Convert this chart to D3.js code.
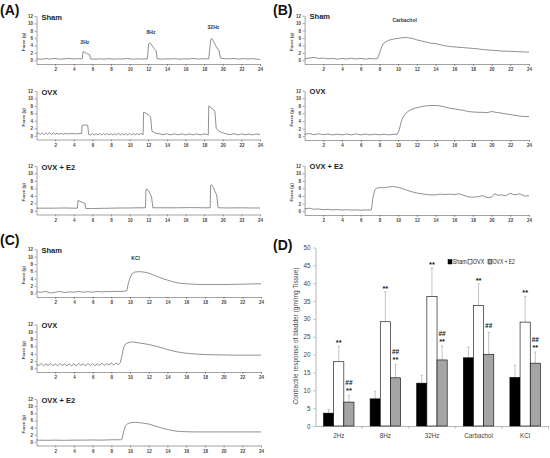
<!DOCTYPE html>
<html>
<head>
<meta charset="utf-8">
<script src="https://cdn.jsdelivr.net/npm/d3@7"></script>
<style>
  body { margin: 0; background: #fff; }
  svg { display: block; font-family: "Liberation Sans", Arial, sans-serif; }
</style>
</head>
<body>
<svg id="fig" width="550" height="458"></svg>
<script>
// ---- trace data: [time, force(g)] ----
var aSham = [[0,0.4],[0.5,0.3],[1,0.45],[1.5,0.35],[2,0.5],[2.5,0.3],[3,0.4],[3.5,0.5],[4,0.35],[4.5,0.45],[4.9,0.4],[5.0,2.3],[5.1,2.3],[5.3,2.0],[5.5,1.7],[5.7,1.5],[5.8,0.4],[6.2,0.3],[6.8,0.4],[7.3,0.3],[7.8,0.45],[8.3,0.3],[8.8,0.4],[9.3,0.35],[9.8,0.5],[10.3,0.3],[10.8,0.4],[11.3,0.35],[11.9,0.4],[12.05,4.5],[12.15,4.7],[12.3,4.4],[12.5,3.6],[12.7,3.0],[12.85,2.6],[12.95,0.5],[13.3,0.3],[13.8,0.4],[14.3,0.35],[14.8,0.45],[15.3,0.3],[15.8,0.4],[16.3,0.35],[16.8,0.5],[17.3,0.35],[17.8,0.4],[18.5,0.4],[18.7,5.5],[18.8,5.9],[19.0,5.2],[19.2,4.2],[19.4,3.2],[19.6,2.8],[19.75,0.6],[20.2,0.45],[20.7,0.4],[21.2,0.5],[21.7,0.35],[22.2,0.45],[22.7,0.35],[23.2,0.45],[23.7,0.3],[24,0.2]];
var aOvx = [[0,0.4],[0.2,0.8],[0.4,0.3],[0.6,0.8],[0.8,0.3],[1.0,0.8],[1.2,0.35],[1.4,0.8],[1.6,0.35],[1.8,0.75],[2.0,0.35],[2.2,0.7],[2.4,0.4],[2.6,0.7],[2.8,0.4],[3.0,0.6],[3.4,0.5],[3.8,0.6],[4.2,0.5],[4.6,0.6],[4.85,0.6],[4.9,2.8],[5.2,2.9],[5.5,2.8],[5.6,0.4],[5.8,0.2],[6.0,0.6],[6.2,0.2],[6.4,0.55],[6.6,0.2],[6.8,0.6],[7.0,0.2],[7.2,0.6],[7.4,0.25],[7.6,0.6],[7.8,0.25],[8.0,0.6],[8.2,0.2],[8.4,0.6],[8.6,0.25],[8.8,0.65],[9.0,0.25],[9.2,0.6],[9.4,0.2],[9.6,0.6],[9.8,0.2],[10.0,0.7],[10.2,0.2],[10.4,0.6],[10.6,0.25],[10.8,0.6],[11.0,0.25],[11.2,0.6],[11.45,0.3],[11.5,6.3],[11.7,6.1],[12.0,5.7],[12.25,5.0],[12.4,1.2],[12.8,0.7],[13.2,0.5],[13.6,0.3],[14.0,0.55],[14.4,0.25],[14.8,0.5],[15.2,0.25],[15.6,0.5],[16.0,0.25],[16.4,0.5],[16.8,0.25],[17.2,0.5],[17.6,0.25],[18.0,0.5],[18.45,0.3],[18.5,8.0],[18.7,7.6],[19.0,7.0],[19.15,6.6],[19.3,2.0],[19.6,1.2],[20.0,0.8],[20.4,0.5],[20.8,0.3],[21.2,0.55],[21.6,0.25],[22.0,0.5],[22.4,0.25],[22.8,0.5],[23.2,0.25],[23.6,0.5],[24,0.3]];
var aE2 = [[0,0.7],[1,0.7],[2,0.7],[3,0.75],[4,0.7],[4.4,0.7],[4.45,2.7],[4.6,2.6],[4.8,2.4],[5.0,2.2],[5.2,2.0],[5.3,0.6],[6,0.6],[7,0.65],[8,0.7],[9,0.75],[10,0.75],[11,0.8],[11.7,0.8],[11.75,5.5],[11.85,5.9],[12.0,5.4],[12.2,4.5],[12.35,3.8],[12.5,0.8],[13.5,0.8],[15,0.8],[16.5,0.85],[18,0.8],[18.65,0.8],[18.7,6.7],[18.8,7.0],[19.0,6.2],[19.2,5.0],[19.35,4.2],[19.5,0.8],[20.5,0.75],[22,0.8],[23,0.75],[24,0.75]];

var bSham = [[0,0.4],[0.5,0.6],[1,0.8],[1.5,0.5],[2,0.6],[2.5,0.4],[3,0.5],[3.5,0.3],[4,0.5],[4.5,0.35],[5,0.55],[5.5,0.35],[6,0.5],[6.5,0.3],[7,0.5],[7.5,0.35],[7.8,0.5],[8.0,1.8],[8.2,3.3],[8.4,4.4],[8.7,5.0],[9,5.4],[9.5,5.7],[10,5.9],[10.5,6.1],[11,6.1],[11.5,5.9],[12,5.5],[12.5,5.2],[13,4.9],[13.5,4.6],[14,4.5],[14.5,4.2],[15,3.9],[15.5,3.7],[16,3.6],[17,3.4],[18,3.2],[18.5,3.1],[19,2.9],[20,2.7],[21,2.5],[22,2.4],[23,2.3],[24,2.2]];
var bOvx = [[0,0.5],[0.5,0.7],[1,0.4],[1.5,0.65],[2,0.4],[2.5,0.6],[3,0.35],[3.5,0.55],[4,0.35],[4.5,0.6],[5,0.35],[5.5,0.6],[6,0.35],[6.5,0.55],[7,0.35],[7.5,0.55],[8,0.35],[8.5,0.55],[9,0.35],[9.5,0.5],[9.9,0.5],[10.1,1.5],[10.3,3.5],[10.5,5.0],[10.8,6.0],[11.2,6.8],[11.8,7.4],[12.5,7.8],[13,8.0],[13.5,8.1],[14,8.1],[14.5,8.0],[15,7.7],[15.5,7.4],[16,7.2],[16.5,7.0],[17,6.8],[17.5,6.5],[18,6.4],[18.5,6.3],[19,6.3],[19.5,6.2],[20,6.5],[20.5,6.3],[21,6.1],[21.5,5.9],[22,5.7],[22.5,5.5],[23,5.3],[23.5,5.2],[24,5.2]];
var bE2 = [[0,0.6],[0.5,0.8],[1,0.5],[1.5,0.6],[2,0.4],[2.5,0.5],[3,0.35],[3.5,0.45],[4,0.3],[4.5,0.4],[5,0.3],[5.5,0.35],[6,0.25],[6.5,0.35],[7,0.3],[7.15,0.4],[7.3,3.5],[7.5,5.5],[7.7,6.1],[8,6.2],[8.5,6.2],[9,6.4],[9.5,6.5],[10,6.3],[10.5,5.9],[11,5.5],[11.5,5.1],[12,4.8],[12.5,4.6],[13,4.4],[13.5,4.3],[14,4.3],[14.5,4.5],[15,4.4],[15.5,4.5],[16,4.4],[16.5,4.6],[17,4.2],[17.5,3.8],[18,3.7],[18.5,3.8],[19,4.1],[19.5,3.6],[20,3.7],[20.3,4.6],[20.7,4.2],[21,4.3],[21.5,4.1],[22,4.7],[22.5,4.3],[23,4.6],[23.5,4.0],[24,4.1]];

var cSham = [[0,0.4],[0.5,0.3],[1,0.5],[1.5,0.1],[2,0.3],[2.5,0.5],[3,0.2],[3.5,0.4],[4,0.3],[4.5,0.5],[5,0.3],[5.5,0.45],[6,0.3],[6.5,0.5],[7,0.4],[7.5,0.5],[8,0.45],[8.5,0.55],[9,0.5],[9.5,0.6],[9.65,0.7],[9.8,2.5],[10,4.2],[10.2,5.3],[10.5,5.8],[11,5.9],[11.5,5.8],[12,5.5],[12.5,5.0],[13,4.5],[13.5,4.0],[14,3.6],[14.5,3.2],[15,2.9],[15.5,2.7],[16,2.6],[17,2.45],[18,2.4],[19,2.4],[20,2.4],[21,2.45],[22,2.5],[23,2.55],[24,2.6]];
var cOvx = [[0,1.2],[0.25,0.8],[0.5,1.3],[0.75,0.7],[1,1.2],[1.25,0.8],[1.5,1.3],[1.75,0.7],[2,1.2],[2.25,0.7],[2.5,1.3],[2.75,0.8],[3,1.2],[3.25,0.7],[3.5,1.2],[3.75,0.7],[4,1.2],[4.25,0.7],[4.5,1.3],[4.75,0.8],[5,1.2],[5.25,0.7],[5.5,1.3],[5.75,0.8],[6,1.3],[6.25,0.7],[6.5,1.2],[6.75,0.8],[7,1.4],[7.25,0.8],[7.5,1.3],[7.75,0.9],[8,1.4],[8.25,0.9],[8.5,1.4],[8.75,1.0],[8.95,1.5],[9.1,3.0],[9.3,5.5],[9.5,6.6],[9.8,7.0],[10.2,7.2],[10.8,7.0],[11.5,6.7],[12,6.5],[12.5,6.2],[13,5.9],[13.5,5.5],[14,5.1],[14.5,4.8],[15,4.5],[15.5,4.3],[16,4.1],[16.5,4.0],[17,3.9],[18,3.75],[19,3.7],[20,3.65],[21,3.6],[22,3.6],[23,3.6],[24,3.6]];
var cE2 = [[0,0.5],[1,0.45],[2,0.5],[3,0.45],[4,0.5],[5,0.5],[6,0.55],[7,0.5],[8,0.6],[9,0.6],[9.15,0.8],[9.3,2.8],[9.5,4.5],[9.8,5.2],[10.2,5.4],[10.6,5.5],[11,5.4],[11.5,5.2],[12,5.0],[12.5,4.6],[13,4.2],[13.5,3.8],[14,3.5],[14.5,3.2],[15,3.0],[15.5,2.9],[16,2.85],[17,2.8],[18,2.8],[20,2.8],[22,2.8],[24,2.8]];

var groupNames = ["Sham", "OVX", "OVX + E2"];
var timeTicks = [2,4,6,8,10,12,14,16,18,20,22,24];
var forceTicks = [0,2,4,6,8,10,12];

// stimulus labels: [text, time, force]
var aNotes = [["2Hz", 5.2, 4.4], ["8Hz", 12.3, 7.2], ["32Hz", 19.0, 8.5]];
var bNotes = [["Carbachol", 10.7, 10.2]];
var cNotes = [["KCl", 10.6, 9.1]];

// ---- panel D data ----
var stimuli = ["2Hz", "8Hz", "32Hz", "Carbachol", "KCl"];
var shamMean = [3.6, 7.6, 12.0, 19.1, 13.6];
var shamErr  = [4.6, 9.7, 14.2, 22.1, 17.0];
var ovxMean  = [18.0, 29.2, 36.3, 33.8, 29.1];
var ovxErr   = [22.3, 37.6, 44.3, 39.8, 36.3];
var e2Mean   = [6.7, 13.5, 18.5, 20.1, 17.6];
var e2Err    = [8.6, 17.3, 22.4, 26.2, 20.7];
var ovxStar  = ["**", "**", "**", "**", "**"];
var e2Star   = ["**", "**", "**", "", "**"];
var e2Hash   = ["##", "##", "##", "##", "##"];
var barTicks = [0,5,10,15,20,25,30,35,40,45,50];

var svg = d3.select("#fig");
svg.append("rect").attr("width", 550).attr("height", 458).attr("fill", "#fff");

function panelLetter(txt, x, y) {
    svg.append("text").attr("x", x).attr("y", y)
        .attr("font-size", 14).attr("font-weight", "bold").attr("fill", "#111")
        .text(txt);
}

function tracePanel(x0, x1, tops, bottoms, traces, notes) {
    traces.forEach(function(tr, i) {
        var x = d3.scaleLinear().domain([0, 24]).range([x0, x1]);
        var y = d3.scaleLinear().domain([-1, 12]).range([bottoms[i], tops[i]]);
        var g = svg.append("g");

        var ya = g.append("g").attr("transform", "translate(" + x0 + ",0)")
            .call(d3.axisLeft(y).tickValues(forceTicks).tickSize(2).tickSizeOuter(0).tickPadding(1.5));
        var xa = g.append("g").attr("transform", "translate(0," + bottoms[i] + ")")
            .call(d3.axisBottom(x).tickValues(timeTicks).tickSize(2).tickSizeOuter(0).tickPadding(2));
        [ya, xa].forEach(function(a) {
            a.selectAll("path,line").attr("stroke", "#555").attr("stroke-width", 0.55);
            a.selectAll("text").attr("font-size", 4.5).attr("fill", "#444").attr("font-weight", "bold");
        });

        g.append("text")
            .attr("transform", "translate(" + (x0 - 12) + "," + ((tops[i] + bottoms[i]) / 2 + 2) + ") rotate(-90)")
            .attr("text-anchor", "middle").attr("font-size", 4.3).attr("fill", "#444")
            .attr("font-weight", "bold")
            .text("Force (g)");

        g.append("text").attr("x", x0 + 5).attr("y", tops[i] + 3.5)
            .attr("font-size", 7.5).attr("font-weight", "bold").attr("fill", "#222")
            .text(groupNames[i]);

        g.append("path").datum(tr)
            .attr("fill", "none").attr("stroke", "#444").attr("stroke-width", 0.6)
            .attr("stroke-linejoin", "round")
            .attr("d", d3.line().x(function(d) { return x(d[0]); }).y(function(d) { return y(d[1]); }));

        if (i === 0) {
            notes.forEach(function(n) {
                g.append("text").attr("x", x(n[1])).attr("y", y(n[2]))
                    .attr("text-anchor", "middle").attr("font-size", 5)
                    .attr("font-weight", "bold").attr("fill", "#333")
                    .text(n[0]);
            });
        }
    });
}

panelLetter("(A)", 0, 15);
tracePanel(36.5, 260, [16, 91, 166], [64, 139.5, 214.5], [aSham, aOvx, aE2], aNotes);
panelLetter("(B)", 273, 15);
tracePanel(304.6, 529, [15.7, 90.7, 165.7], [64, 140, 215], [bSham, bOvx, bE2], bNotes);
panelLetter("(C)", 0, 245);
tracePanel(36.5, 261, [249.3, 324.3, 399], [297, 372, 445.5], [cSham, cOvx, cE2], cNotes);

// ---- panel D: bar chart ----
panelLetter("(D)", 273, 250);

var yb = d3.scaleLinear().domain([0, 50]).range([426, 247.5]);
var x0b = d3.scaleBand().domain(stimuli).range([315.5, 548.5]);
var series = ["sham", "ovx", "e2"];
var x1b = d3.scaleBand().domain(series).range([8, 38.5]);
var fills = { sham: "#000", ovx: "#fff", e2: "#a5a5a5" };
var means = { sham: shamMean, ovx: ovxMean, e2: e2Mean };
var errs = { sham: shamErr, ovx: ovxErr, e2: e2Err };

var dg = svg.append("g");
var yAx = dg.append("g").attr("transform", "translate(315.5,0)")
    .call(d3.axisLeft(yb).tickValues(barTicks).tickSize(2).tickSizeOuter(0).tickPadding(3));
yAx.selectAll("path,line").attr("stroke", "#999").attr("stroke-width", 0.7);
yAx.selectAll("text").attr("font-size", 6.3).attr("fill", "#444");

var xAx = dg.append("g").attr("transform", "translate(0,426)")
    .call(d3.axisBottom(x0b).tickSize(0).tickPadding(8));
xAx.select(".domain").attr("stroke", "#999").attr("stroke-width", 0.7);
xAx.selectAll("text").attr("font-size", 6.3).attr("fill", "#444");
// tick marks between categories
dg.selectAll(".sep").data(stimuli).enter().append("line")
    .attr("x1", function(d) { return x0b(d) + x0b.bandwidth(); })
    .attr("x2", function(d) { return x0b(d) + x0b.bandwidth(); })
    .attr("y1", 426).attr("y2", 428.5)
    .attr("stroke", "#999").attr("stroke-width", 0.7);

dg.append("text")
    .attr("transform", "translate(298,336) rotate(-90)")
    .attr("text-anchor", "middle").attr("font-size", 6.5).attr("fill", "#444")
    .text("Contractile response of bladder (gm/mg Tissue)");

series.forEach(function(s) {
    var bx = function(d, i) { return x0b(stimuli[i]) + x1b(s); };
    var bw = x1b.bandwidth();
    // error bars
    dg.selectAll(".eb-" + s).data(errs[s]).enter().append("line")
        .attr("x1", function(d, i) { return bx(d, i) + bw / 2; })
        .attr("x2", function(d, i) { return bx(d, i) + bw / 2; })
        .attr("y1", function(d, i) { return yb(means[s][i]); })
        .attr("y2", function(d) { return yb(d); })
        .attr("stroke", "#aaa").attr("stroke-width", 0.7);
    dg.selectAll(".ec-" + s).data(errs[s]).enter().append("line")
        .attr("x1", function(d, i) { return bx(d, i) + bw / 2 - 1.2; })
        .attr("x2", function(d, i) { return bx(d, i) + bw / 2 + 1.2; })
        .attr("y1", function(d) { return yb(d); })
        .attr("y2", function(d) { return yb(d); })
        .attr("stroke", "#aaa").attr("stroke-width", 0.7);
    dg.selectAll(".bar-" + s).data(means[s]).enter().append("rect")
        .attr("x", bx)
        .attr("y", function(d) { return yb(d); })
        .attr("width", bw)
        .attr("height", function(d) { return 426 - yb(d); })
        .attr("fill", fills[s]).attr("stroke", "#000").attr("stroke-width", 0.6);
});

function marks(arr, s, errArr, offset) {
    dg.selectAll(null).data(arr).enter().append("text")
        .attr("x", function(d, i) { return x0b(stimuli[i]) + x1b(s) + x1b.bandwidth() / 2; })
        .attr("y", function(d, i) { return yb(errArr[i]) - offset; })
        .attr("text-anchor", "middle").attr("font-size", 7.5).attr("font-weight", "bold")
        .attr("fill", "#111")
        .text(function(d) { return d; });
}
marks(ovxStar, "ovx", ovxErr, 1.2);
marks(e2Star, "e2", e2Err, 2.3);
// hashes sit above the stars, or take their place when there are none
dg.selectAll(null).data(e2Hash).enter().append("text")
    .attr("x", function(d, i) { return x0b(stimuli[i]) + x1b("e2") + x1b.bandwidth() / 2; })
    .attr("y", function(d, i) { return yb(e2Err[i]) - (e2Star[i] ? 10.5 : 4.8); })
    .attr("text-anchor", "middle").attr("font-size", 6.5).attr("font-weight", "bold")
    .attr("fill", "#111")
    .text(function(d) { return d; });

// legend
var leg = dg.append("g");
series.forEach(function(s, i) {
    var lx = [448, 468, 488][i];
    var tw = [14, 11.5, 22][i];
    leg.append("rect").attr("x", lx).attr("y", 259.5).attr("width", 4).attr("height", 4.5)
        .attr("fill", fills[s]).attr("stroke", "#000").attr("stroke-width", 0.5);
    leg.append("text").attr("x", lx + 4.8).attr("y", 264)
        .attr("font-size", 6.3).attr("fill", "#222")
        .attr("textLength", tw).attr("lengthAdjust", "spacingAndGlyphs")
        .text(groupNames[i]);
});
</script>
</body>
</html>
